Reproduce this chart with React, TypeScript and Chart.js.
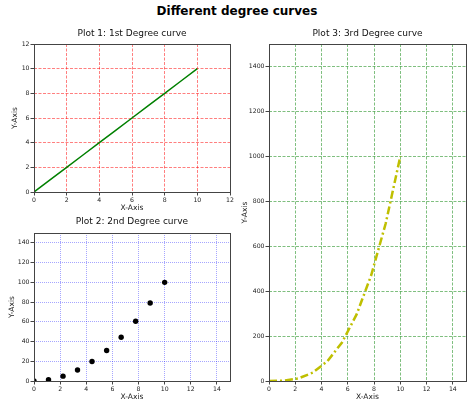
import { useEffect, useRef } from "react";
import { Chart, registerables } from "chart.js";

Chart.register(...registerables);

const suptitle = "Different degree curves";
const plotTitles = ["Plot 1: 1st Degree curve", "Plot 2: 2nd Degree curve", "Plot 3: 3rd Degree curve"];
const xLabel = "X-Axis";
const yLabel = "Y-Axis";

// Plot 1: straight line
const lineX = [0, 1, 2, 3, 4, 5, 6, 7, 8, 9, 10];
const lineY = [0, 1, 2, 3, 4, 5, 6, 7, 8, 9, 10];
const plot1XTicks = [0, 2, 4, 6, 8, 10, 12];
const plot1YTicks = [0, 2, 4, 6, 8, 10, 12];

// Plot 2: scatter of squares
const scatterX = [0, 1.11, 2.22, 3.33, 4.44, 5.56, 6.67, 7.78, 8.89, 10];
const scatterY = [0, 1.2, 4.9, 11.1, 19.8, 30.9, 44.4, 60.5, 79.0, 100];
const plot2XTicks = [0, 2, 4, 6, 8, 10, 12, 14];
const plot2YTicks = [0, 20, 40, 60, 80, 100, 120, 140];

// Plot 3: cubic curve
const cubicX = [0, 1.11, 2.22, 3.33, 4.44, 5.56, 6.67, 7.78, 8.89, 10];
const cubicY = [0, 1.4, 11.0, 37.0, 87.8, 171.5, 296.3, 470.5, 702.3, 1000];
const plot3XTicks = [0, 2, 4, 6, 8, 10, 12, 14];
const plot3YTicks = [0, 200, 400, 600, 800, 1000, 1200, 1400];

const FONT = "DejaVu Sans";
const TEXT = "#222";

const framePlugin = {
  id: "frame",
  afterDraw(chart: any) {
    const { ctx, chartArea } = chart;
    const l = Math.round(chartArea.left) + 0.5;
    const t = Math.round(chartArea.top) + 0.5;
    const r = Math.round(chartArea.right) + 0.5;
    const b = Math.round(chartArea.bottom) + 0.5;
    ctx.save();
    ctx.strokeStyle = "#444";
    ctx.lineWidth = 1;
    ctx.setLineDash([]);
    ctx.strokeRect(l, t, r - l, b - t);
    ctx.restore();
  },
};

type Spec = {
  type: "line" | "scatter";
  title: string;
  xs: number[];
  ys: number[];
  xMin: number;
  xMax: number;
  yMin: number;
  yMax: number;
  xTicks: number[];
  yTicks: number[];
  gridColor: string;
  gridDash: number[];
  yWidth: number;
  yTitlePad: number;
  padRight: number;
  titlePadTop: number;
  titlePadBottom: number;
  dataset: any;
};

function axis(
  min: number,
  max: number,
  ticks: number[],
  gridColor: string,
  gridDash: number[],
  isX: boolean,
  size: number,
  titlePad: any,
  label: string
) {
  return {
    type: "linear",
    min,
    max,
    afterBuildTicks: (s: any) => {
      s.ticks = ticks.map((v) => ({ value: v }));
    },
    afterFit: (s: any) => {
      if (isX) s.height = size;
      else s.width = size;
    },
    grid: {
      color: gridColor,
      lineWidth: 1,
      drawTicks: true,
      tickLength: 3.5,
      tickColor: "#444",
      tickWidth: 1,
      tickBorderDash: [],
    },
    border: { display: false, dash: gridDash },
    ticks: {
      font: { size: 6.2, family: FONT },
      color: TEXT,
      padding: 1,
      maxRotation: 0,
      autoSkip: false,
      callback: (v: any) => String(v),
    },
    title: {
      display: true,
      text: label,
      font: { size: 7.5, family: FONT },
      color: TEXT,
      padding: titlePad,
    },
  };
}

function makeConfig(s: Spec): any {
  return {
    type: s.type,
    data: {
      datasets: [
        {
          ...s.dataset,
          data: s.xs.map((x, i) => ({ x, y: s.ys[i] })),
          clip: 0,
        },
      ],
    },
    options: {
      responsive: false,
      animation: false,
      devicePixelRatio: 1,
      layout: { padding: { left: 0, top: 0, bottom: 0, right: s.padRight } },
      plugins: {
        legend: { display: false },
        tooltip: { enabled: false },
        title: {
          display: true,
          text: s.title,
          fullSize: false,
          color: "#111",
          font: { size: 9, family: FONT, weight: "normal" },
          padding: { top: s.titlePadTop, bottom: s.titlePadBottom },
        },
      },
      scales: {
        x: axis(s.xMin, s.xMax, s.xTicks, s.gridColor, s.gridDash, true, 22, { top: 0, bottom: 1.2 }, xLabel),
        y: axis(s.yMin, s.yMax, s.yTicks, s.gridColor, s.gridDash, false, s.yWidth, { top: s.yTitlePad, bottom: 0 }, yLabel),
      },
    },
    plugins: [framePlugin],
  };
}

function ChartBox({ spec, left, top, width, height }: { spec: Spec; left: number; top: number; width: number; height: number }) {
  const ref = useRef<HTMLCanvasElement | null>(null);
  useEffect(() => {
    if (!ref.current) return;
    const chart = new Chart(ref.current, makeConfig(spec));
    return () => chart.destroy();
  }, [spec]);
  return (
    <canvas
      ref={ref}
      width={width}
      height={height}
      style={{ position: "absolute", left, top, width, height }}
    />
  );
}

const spec1: Spec = {
  type: "line",
  title: plotTitles[0],
  xs: lineX,
  ys: lineY,
  xMin: 0,
  xMax: 12,
  yMin: 0,
  yMax: 12,
  xTicks: plot1XTicks,
  yTicks: plot1YTicks,
  gridColor: "rgba(255,0,0,0.5)",
  gridDash: [3, 1.5],
  yWidth: 34,
  yTitlePad: 11,
  padRight: 10,
  titlePadTop: 6.6,
  titlePadBottom: 4.6,
  dataset: { borderColor: "#008000", borderWidth: 1.5, pointRadius: 0, fill: false, tension: 0 },
};

const spec2: Spec = {
  type: "scatter",
  title: plotTitles[1],
  xs: scatterX,
  ys: scatterY,
  xMin: 0,
  xMax: 15,
  yMin: 0,
  yMax: 150,
  xTicks: plot2XTicks,
  yTicks: plot2YTicks,
  gridColor: "rgba(0,0,255,0.35)",
  gridDash: [1, 1],
  yWidth: 34,
  yTitlePad: 7.7,
  padRight: 10,
  titlePadTop: 4.6,
  titlePadBottom: 5.6,
  dataset: { backgroundColor: "#000", borderColor: "#000", borderWidth: 0, pointRadius: 2.7, showLine: false },
};

const spec3: Spec = {
  type: "line",
  title: plotTitles[2],
  xs: cubicX,
  ys: cubicY,
  xMin: 0,
  xMax: 15,
  yMin: 0,
  yMax: 1500,
  xTicks: plot3XTicks,
  yTicks: plot3YTicks,
  gridColor: "rgba(0,128,0,0.5)",
  gridDash: [3, 1.5],
  yWidth: 33,
  yTitlePad: 4.2,
  padRight: 8,
  titlePadTop: 6.6,
  titlePadBottom: 4.6,
  dataset: {
    borderColor: "#bfbf00",
    borderWidth: 2.5,
    borderDash: [8, 3, 2, 3],
    pointRadius: 0,
    fill: false,
    tension: 0,
  },
};

export default function App() {
  return (
    <div
      style={{
        position: "absolute",
        left: 0,
        top: 0,
        width: 474,
        height: 407,
        background: "#fff",
        overflow: "hidden",
      }}
    >
      <div
        style={{
          position: "absolute",
          left: 0,
          top: 0,
          width: 474,
          textAlign: "center",
          fontFamily: FONT,
          fontWeight: "bold",
          fontSize: 12,
          lineHeight: "22px",
          color: "#000",
        }}
      >
        {suptitle}
      </div>
      <ChartBox spec={spec1} left={0} top={22} width={240} height={192} />
      <ChartBox spec={spec2} left={0} top={212} width={240} height={191} />
      <ChartBox spec={spec3} left={236} top={22} width={238} height={381} />
    </div>
  );
}
